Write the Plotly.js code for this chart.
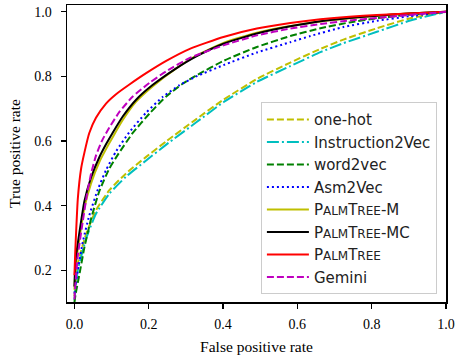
<!DOCTYPE html>
<html><head><meta charset="utf-8">
<script src="https://cdn.plot.ly/plotly-3.0.1.min.js"></script>
<style>html,body{margin:0;padding:0;background:#fff}#chart{width:455px;height:358px}</style>
</head><body><div id="chart"></div>
<script>
const sc = (s) => "<span style='font-size:12px'>" + s + "</span>";
const seriesNames = ["one-hot","Instruction2Vec","word2vec","Asm2Vec",
  "P" + sc("ALM") + "T" + sc("REE") + "-M",
  "P" + sc("ALM") + "T" + sc("REE") + "-MC",
  "P" + sc("ALM") + "T" + sc("REE"),
  "Gemini"];

const onehotFpr = [0, 0.009, 0.032, 0.058, 0.094, 0.139, 0.193, 0.247, 0.328, 0.401, 0.491, 0.581, 0.662, 0.724, 0.814, 0.904, 1.0];
const onehotTpr = [0.12, 0.221, 0.314, 0.386, 0.448, 0.5, 0.551, 0.599, 0.668, 0.728, 0.792, 0.843, 0.885, 0.914, 0.949, 0.98, 1.0];
const i2vFpr = [0, 0.009, 0.032, 0.058, 0.094, 0.139, 0.193, 0.247, 0.328, 0.401, 0.491, 0.581, 0.662, 0.724, 0.814, 0.904, 1.0];
const i2vTpr = [0.107, 0.2, 0.3, 0.375, 0.437, 0.49, 0.54, 0.589, 0.658, 0.72, 0.783, 0.832, 0.875, 0.903, 0.938, 0.973, 1.0];
const w2vFpr = [0, 0.003, 0.013, 0.027, 0.045, 0.067, 0.094, 0.117, 0.157, 0.202, 0.247, 0.292, 0.328, 0.401, 0.491, 0.581, 0.662, 0.74, 0.814, 0.9, 1.0];
const w2vTpr = [0.10, 0.125, 0.185, 0.272, 0.36, 0.445, 0.515, 0.558, 0.625, 0.685, 0.738, 0.778, 0.803, 0.848, 0.891, 0.925, 0.949, 0.967, 0.98, 0.991, 1.0];
const asmFpr = [0, 0.009, 0.023, 0.04, 0.063, 0.085, 0.112, 0.148, 0.193, 0.238, 0.283, 0.328, 0.401, 0.491, 0.581, 0.635, 0.724, 0.814, 0.9, 1.0];
const asmTpr = [0.128, 0.2, 0.29, 0.37, 0.45, 0.51, 0.568, 0.628, 0.688, 0.737, 0.773, 0.8, 0.835, 0.874, 0.906, 0.925, 0.953, 0.972, 0.986, 1.0];
const pmFpr = [0, 0.003, 0.013, 0.027, 0.045, 0.067, 0.085, 0.103, 0.13, 0.166, 0.211, 0.274, 0.328, 0.401, 0.491, 0.581, 0.662, 0.74, 0.814, 0.9, 1.0];
const pmTpr = [0.14, 0.215, 0.295, 0.395, 0.47, 0.535, 0.575, 0.612, 0.665, 0.722, 0.77, 0.825, 0.864, 0.904, 0.935, 0.956, 0.97, 0.98, 0.988, 0.995, 1.0];
const pmcFpr = [0, 0.003, 0.013, 0.027, 0.045, 0.067, 0.085, 0.103, 0.13, 0.166, 0.211, 0.274, 0.328, 0.401, 0.491, 0.581, 0.662, 0.74, 0.814, 0.9, 1.0];
const pmcTpr = [0.15, 0.231, 0.314, 0.415, 0.488, 0.55, 0.59, 0.626, 0.676, 0.728, 0.774, 0.825, 0.862, 0.901, 0.933, 0.955, 0.971, 0.981, 0.988, 0.995, 1.0];
const ptFpr = [0, 0.002, 0.005, 0.009, 0.018, 0.027, 0.04, 0.058, 0.085, 0.112, 0.148, 0.193, 0.247, 0.312, 0.401, 0.491, 0.581, 0.662, 0.74, 0.814, 0.9, 1.0];
const ptTpr = [0.185, 0.25, 0.33, 0.42, 0.515, 0.565, 0.625, 0.672, 0.716, 0.745, 0.775, 0.81, 0.848, 0.886, 0.922, 0.948, 0.965, 0.977, 0.985, 0.99, 0.995, 1.0];
const gemFpr = [0, 0.003, 0.009, 0.021, 0.033, 0.045, 0.058, 0.075, 0.094, 0.121, 0.157, 0.202, 0.247, 0.312, 0.401, 0.491, 0.581, 0.662, 0.74, 0.814, 0.9, 1.0];
const gemTpr = [0.11, 0.165, 0.245, 0.34, 0.43, 0.5, 0.555, 0.603, 0.642, 0.69, 0.738, 0.78, 0.816, 0.858, 0.896, 0.927, 0.948, 0.962, 0.973, 0.981, 0.99, 1.0];

const xTicks = [0.0, 0.2, 0.4, 0.6, 0.8, 1.0];
const yTicks = [0.2, 0.4, 0.6, 0.8, 1.0];

const xs = [onehotFpr, i2vFpr, w2vFpr, asmFpr, pmFpr, pmcFpr, ptFpr, gemFpr];
const ys = [onehotTpr, i2vTpr, w2vTpr, asmTpr, pmTpr, pmcTpr, ptTpr, gemTpr];
const colors = ["#bfbf00","#00bfbf","#008000","#0000ff","#bfbf00","#000000","#ff0000","#bf00bf"];
const dashes = ["7px,3px","12px,3px,2px,3px","7px,3px","2px,3px","solid","solid","solid","7px,3px"];

const traces = seriesNames.map((n,i)=>({
  x: xs[i], y: ys[i], name: n, type: 'scatter', mode: 'lines',
  line: {color: colors[i], width: 2, dash: dashes[i], shape: 'spline', smoothing: 0.5}
}));

const serif = "Liberation Serif";
const layout = {
  width: 455, height: 358,
  margin: {l: 67, r: 9, t: 5, b: 56},
  paper_bgcolor: '#fff', plot_bgcolor: '#fff',
  showlegend: true,
  legend: {
    x: 0.976, y: 0.026, xanchor: 'right', yanchor: 'bottom',
    bgcolor: 'rgba(255,255,255,0.8)', bordercolor: '#cccccc', borderwidth: 1,
    itemwidth: 42,
    font: {family: "DejaVu Sans", size: 15, color: '#222'}
  },
  xaxis: {
    range: [-0.02, 1.0], tickvals: xTicks, ticktext: xTicks.map(v=>v.toFixed(1)),
    ticks: 'outside', ticklen: 5, tickwidth: 1.2, tickcolor: '#000',
    ticklabelstandoff: 4,
    showline: true, mirror: true, linecolor: '#000', linewidth: 1.5,
    showgrid: false, zeroline: false, automargin: false,
    tickfont: {family: serif, size: 14, color: '#000'},
    title: {text: 'False positive rate', font: {family: serif, size: 15.5, color: '#000'}, standoff: 10}
  },
  yaxis: {
    range: [0.102, 1.021], tickvals: yTicks, ticktext: yTicks.map(v=>v.toFixed(1)),
    ticks: 'outside', ticklen: 5, tickwidth: 1.2, tickcolor: '#000',
    ticklabelstandoff: 6,
    showline: true, mirror: true, linecolor: '#000', linewidth: 1.5,
    showgrid: false, zeroline: false, automargin: false,
    tickfont: {family: serif, size: 14, color: '#000'},
    title: {text: 'True positive rate', font: {family: serif, size: 15.5, color: '#000'}, standoff: 10}
  }
};
Plotly.newPlot('chart', traces, layout, {staticPlot: true, displayModeBar: false});
</script></body></html>
